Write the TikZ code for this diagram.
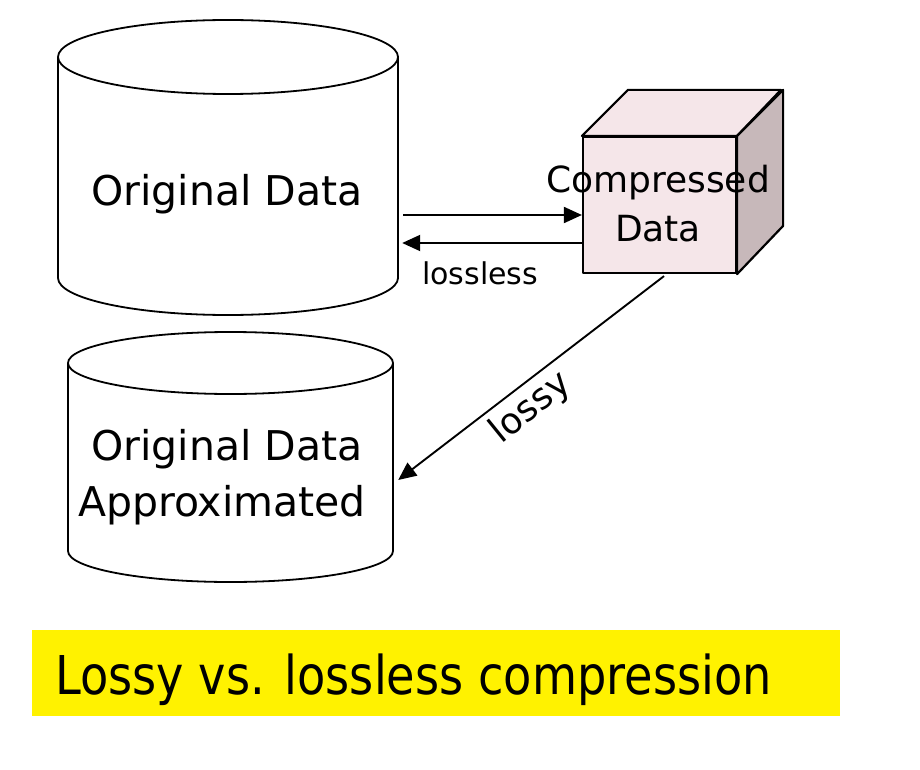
\documentclass[tikz,border=0pt]{standalone}
\usepackage{fontspec}
\setmainfont{DejaVu Sans}
\usetikzlibrary{arrows.meta}
\definecolor{cubefront}{RGB}{245,230,233}
\definecolor{cubeside}{RGB}{199,184,186}
\begin{document}
\begin{tikzpicture}[x=1pt,y=-1pt,
  outline/.style={line width=1.8pt},
  arr/.style={line width=1.9pt,-{Triangle[length=18pt,width=16pt]}},
  body/.style={inner sep=0pt,draw=none},
  cubeface/.style={line width=2.2pt,line join=round},
  bigtext/.style={font=\fontsize{41}{56}\selectfont}]
\useasboundingbox (0,0) rectangle (920,770);

% cylinder 1
\draw[outline] (58,57) -- (58,278) arc[start angle=180,end angle=0,x radius=170,y radius=37] -- (398,57);
\draw[outline] (228,57) ellipse[x radius=170,y radius=37];
\node[body,minimum width=340pt,minimum height=221pt] (orig) at (228,167.5) {};
\node[bigtext,anchor=base,inner sep=0pt] (origtext) at (227,205) {Original Data};

% cylinder 2
\draw[outline] (68,363) -- (68,551) arc[start angle=180,end angle=0,x radius=162.5,y radius=31] -- (393,363);
\draw[outline] (230.5,363) ellipse[x radius=162.5,y radius=31];
\node[body,minimum width=325pt,minimum height=188pt] (approx) at (230.5,457) {};
\node[bigtext,align=center,inner sep=0pt] (approxtext) at (227,477) {Original Data\\Approximated\hspace*{10pt}};

% cube
\node[draw,cubeface,fill=cubefront,minimum width=153pt,minimum height=136pt,inner sep=0pt] (comp) at (659.5,205) {};
\filldraw[cubeface,fill=cubefront] (comp.north west) -- ++(46,-46) -- ++(153,0) -- (comp.north east) -- cycle;
\filldraw[cubeface,fill=cubeside] (comp.north east) -- ++(46,-46) -- ++(0,136) -- (comp.south east) -- cycle;
\node[font=\fontsize{36}{49}\selectfont,align=center,inner sep=0pt] (comptext) at (658,204) {Compressed\\Data};

% connectors
\draw[arr] ([xshift=5pt,yshift=-47.5pt]orig.east) -- ([yshift=-10pt]comp.west);
\draw[arr] ([yshift=-38pt]comp.west) -- ([xshift=4pt,yshift=-75.5pt]orig.east);
\node[font=\fontsize{30}{36}\selectfont,anchor=base west,inner sep=0pt] (lossless) at (422,284) {lossless};
\draw[arr] ([xshift=4.5pt,yshift=-2pt]comp.south) -- ([xshift=5pt,yshift=-23pt]approx.east);
\node[font=\fontsize{36}{43}\selectfont,rotate=39,inner sep=0pt] (lossy) at (531,408) {lossy};

% title
\node[fill=yellow,minimum width=808pt,minimum height=86pt,inner sep=0pt] (titlebox) at (436,673) {};
\node[anchor=base west,inner sep=0pt,font=\fontsize{53.5}{64}\selectfont] (title) at (55,694) {\scalebox{0.865}[1]{Lossy vs. lossless compression}};
\end{tikzpicture}
\end{document}
